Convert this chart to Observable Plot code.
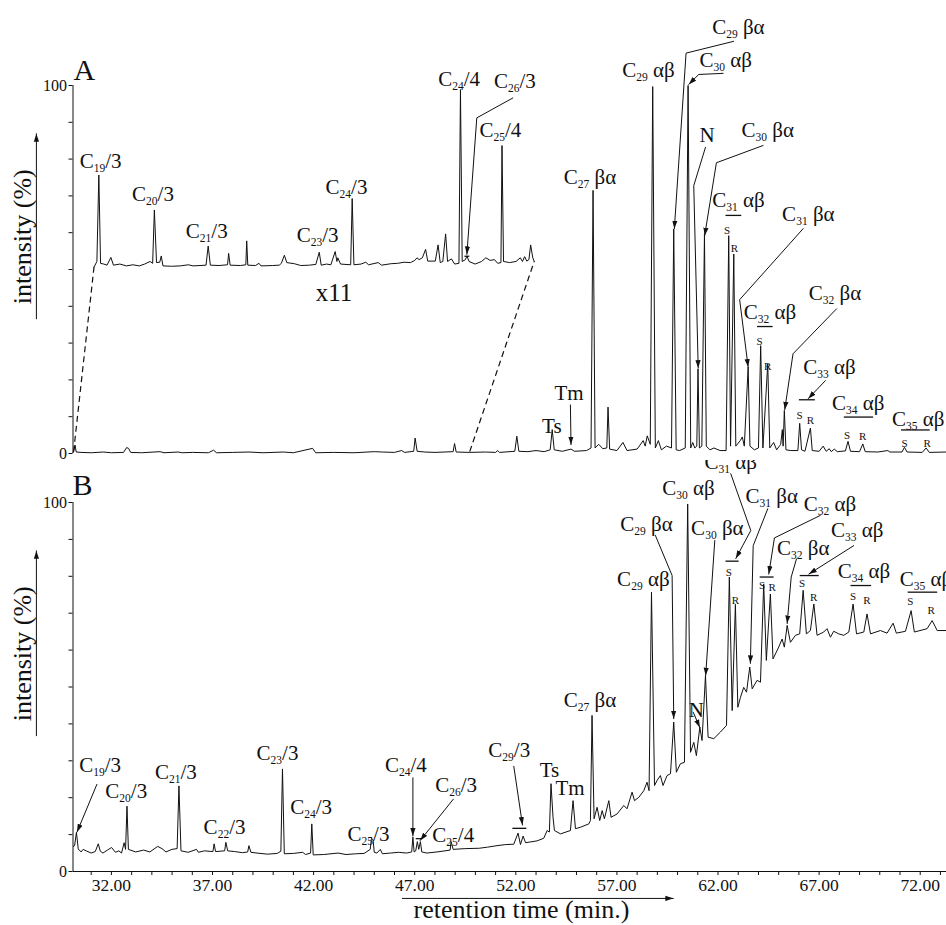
<!DOCTYPE html>
<html><head><meta charset="utf-8">
<script src="https://cdn.jsdelivr.net/npm/d3@7"></script>
<script src="https://cdn.jsdelivr.net/npm/@observablehq/plot@0.6"></script>
<style>
html,body{margin:0;padding:0;background:#fff;overflow:hidden}
#wrap{position:relative;width:946px;height:925px;background:#fff}
#wrap svg{position:absolute;left:0;overflow:hidden}
#wrap svg.panelA{overflow:visible}
</style></head><body><div id="wrap"></div>
<script>
// ---------- scales / ticks ----------
const xDomain = [30.1, 73.3];
const yTicks = [0,10,20,30,40,50,60,70,80,90,100];
const yTickLabels = [0,100];
const xMinorTicks = [31,32,33,34,35,36,37,38,39,40,41,42,43,44,45,46,47,48,49,50,51,52,53,54,55,56,57,58,59,60,61,62,63,64,65,66,67,68,69,70,71,72,73];
const xLabelTicks = [32,37,42,47,52,57,62,67,72];
const xTickLabels = ["32.00","37.00","42.00","47.00","52.00","57.00","62.00","67.00","72.00"];

// ---------- panel A: main trace (retention time, intensity %) ----------
const traceA = [[30.10,0.3],[30.15,1.0],[30.20,2.3],[30.26,0.4],[30.5,0.3],[31.0,0.2],[31.6,0.4],[32.0,0.2],[32.6,0.3],[32.75,1.6],[32.85,1.4],[32.95,0.3],[33.5,0.2],[34.4,0.5],[34.6,0.2],[35.3,0.4],[35.5,0.2],[36.0,0.3],[36.8,0.2],[37.05,0.9],[37.2,0.2],[38.0,0.3],[38.8,0.4],[39.5,0.2],[40.5,0.4],[41.0,0.2],[41.95,1.4],[42.1,0.2],[43.0,0.3],[44.0,0.2],[45.0,0.5],[45.4,0.4],[46.0,0.3],[46.35,0.8],[46.5,0.3],[46.95,0.6],[47.02,4.2],[47.12,0.6],[47.5,0.4],[48.0,0.3],[48.9,0.5],[48.97,2.7],[49.05,0.4],[49.7,0.3],[50.5,0.4],[51.0,0.3],[51.1,0.8],[51.2,0.3],[51.95,0.6],[52.05,4.7],[52.15,0.6],[52.6,0.5],[53.0,0.8],[53.4,0.5],[53.7,1.0],[53.8,6.5],[53.9,1.0],[54.3,0.6],[54.73,1.2],[54.9,0.6],[55.5,0.8],[55.72,1.5],[55.82,71.5],[55.92,1.5],[56.1,2.5],[56.3,1.3],[56.5,1.5],[56.56,12.6],[56.64,1.2],[57.0,0.8],[57.3,3.0],[57.5,0.8],[58.0,1.2],[58.3,3.5],[58.4,2.0],[58.5,4.8],[58.65,2.5],[58.77,99.7],[58.9,1.5],[59.05,3.5],[59.2,1.0],[59.45,2.0],[59.7,1.5],[59.81,61],[59.93,1.0],[60.1,0.8],[60.38,1.5],[60.52,100],[60.65,1.5],[60.75,3.0],[60.85,1.5],[60.95,2.0],[61.01,23],[61.08,1.5],[61.2,2.0],[61.33,59.7],[61.42,2.0],[61.6,1.0],[61.8,1.5],[62.1,0.8],[62.4,0.8],[62.53,59.2],[62.62,2.0],[62.78,54.2],[62.88,2.0],[63.1,3.5],[63.2,4.5],[63.3,2.0],[63.49,23.5],[63.58,2.0],[63.8,1.0],[64.0,1.5],[64.11,29.3],[64.22,1.5],[64.46,24.4],[64.56,1.5],[64.75,3.0],[64.9,1.0],[65.1,2.5],[65.18,6.5],[65.22,2.0],[65.28,11.7],[65.36,1.0],[65.6,0.8],[65.95,0.8],[66.04,8.2],[66.13,1.0],[66.3,0.6],[66.57,6.9],[66.66,0.8],[67.0,0.6],[67.2,2.0],[67.35,0.6],[67.5,1.3],[67.6,0.5],[67.75,1.2],[67.9,0.5],[68.3,0.7],[68.43,3.3],[68.55,0.6],[69.0,0.5],[69.16,2.6],[69.28,0.5],[69.9,0.4],[70.4,0.8],[70.5,0.4],[71.1,0.4],[71.22,1.7],[71.35,0.4],[72.1,0.3],[72.29,1.5],[72.45,0.3],[73.3,0.4]];

// ---------- panel A: x11 inset (retention time, magnified intensity) ----------
const insetDomain = [30.0, 50.45];
const insetA = [[30.00,0.0],[30.13,1.5],[30.22,25],[30.30,1.0],[30.45,0.8],[30.6,0.5],[30.78,2.6],[30.9,0.5],[31.2,0.8],[31.5,0.3],[31.8,0.6],[32.1,0.3],[32.35,0.8],[32.6,1.5],[32.72,1.0],[32.8,15.5],[32.9,1.2],[33.05,1.3],[33.12,3.0],[33.2,0.3],[33.6,0.2],[34.0,0.3],[34.38,0.6],[34.6,0.3],[35.2,0.5],[35.3,5.7],[35.4,0.5],[35.8,0.4],[36.2,0.6],[36.25,3.7],[36.32,0.5],[36.8,0.4],[37.05,0.6],[37.09,7.1],[37.14,0.5],[37.5,0.4],[37.66,1.0],[37.75,0.3],[38.3,0.4],[38.6,0.5],[38.7,1.0],[38.84,3.2],[38.95,1.2],[39.3,0.9],[39.6,0.4],[40.0,0.5],[40.3,0.7],[40.46,4.0],[40.55,0.5],[40.8,0.8],[41.0,0.6],[41.2,4.2],[41.28,1.5],[41.32,2.5],[41.45,0.8],[41.92,0.6],[41.99,18.6],[42.07,0.6],[42.4,0.8],[42.62,1.3],[42.75,0.6],[43.2,1.2],[43.35,0.5],[43.8,0.9],[44.1,1.0],[44.4,1.3],[44.7,1.2],[44.9,1.8],[45.0,2.5],[45.1,2.0],[45.25,2.5],[45.40,4.8],[45.5,1.6],[45.85,1.6],[45.98,6.0],[46.08,1.2],[46.2,1.5],[46.33,9.0],[46.42,1.5],[46.6,2.2],[46.75,0.8],[46.95,1.0],[47.02,48.2],[47.1,1.5],[47.25,2.0],[47.32,3.0],[47.42,1.5],[47.7,0.8],[48.0,1.5],[48.2,2.5],[48.4,1.8],[48.6,2.0],[48.75,1.0],[48.9,1.2],[48.95,33],[49.02,1.5],[49.3,1.2],[49.6,1.5],[49.8,2.5],[49.9,1.5],[50.0,2.8],[50.1,1.6],[50.2,2.0],[50.28,6.0],[50.38,2.5],[50.45,1.5]];

// ---------- panel B trace ----------
const traceB = [[30.12,6.8],[30.18,7.0],[30.27,10.6],[30.36,6.1],[30.5,5.3],[30.6,6.0],[30.79,5.5],[31.0,5.0],[31.2,5.4],[31.35,7.5],[31.45,5.5],[31.58,5.0],[31.8,5.8],[32.01,6.5],[32.2,5.2],[32.37,5.6],[32.5,5.0],[32.63,7.8],[32.7,6.0],[32.77,17.7],[32.84,6.0],[33.2,5.3],[33.59,5.8],[33.9,5.3],[34.29,6.8],[34.5,6.2],[34.7,5.3],[34.99,6.0],[35.25,6.2],[35.34,23.2],[35.44,5.6],[35.8,5.2],[36.21,6.0],[36.3,5.2],[36.6,5.6],[37.02,5.4],[37.08,7.5],[37.15,5.4],[37.6,5.6],[37.66,7.9],[37.75,5.6],[38.1,5.4],[38.48,5.1],[38.74,5.3],[38.8,7.0],[38.9,5.2],[39.2,5.0],[39.71,4.7],[40.2,4.9],[40.38,5.5],[40.46,27.8],[40.55,4.8],[41.0,4.9],[41.46,5.2],[41.6,4.6],[41.85,5.0],[41.91,12.9],[41.98,4.5],[42.5,4.6],[43.21,5.0],[43.6,4.6],[44.08,4.8],[44.5,4.9],[44.8,6.0],[44.86,9.0],[44.94,8.6],[45.0,5.2],[45.13,5.0],[45.30,6.0],[45.4,4.8],[45.8,5.0],[46.2,5.2],[46.6,5.0],[46.85,5.3],[46.91,9.3],[46.97,5.3],[47.05,5.6],[47.13,8.1],[47.2,6.0],[47.28,8.1],[47.35,5.3],[47.6,5.0],[48.1,5.3],[48.5,5.6],[48.75,5.8],[48.8,8.1],[48.9,6.0],[49.5,6.2],[50.19,6.3],[50.6,6.6],[51.07,7.0],[51.5,7.3],[51.9,7.4],[52.11,10.4],[52.23,7.3],[52.36,9.6],[52.48,7.8],[53.05,8.3],[53.38,9.0],[53.55,11.1],[53.66,10.7],[53.74,23.8],[53.84,14.7],[53.91,11.1],[54.21,10.2],[54.70,11.1],[54.83,19.2],[54.95,11.6],[55.20,12.0],[55.61,12.9],[55.69,13.8],[55.77,42.3],[55.87,14.3],[56.02,17.4],[56.15,13.8],[56.27,16.5],[56.38,14.3],[56.60,19.2],[56.71,14.7],[57.01,15.6],[57.34,17.9],[57.50,17.0],[57.75,21.5],[57.87,19.2],[58.08,20.1],[58.33,21.9],[58.49,24.2],[58.59,21.9],[58.71,75.7],[58.86,23.3],[58.99,24.7],[59.15,26.0],[59.28,23.3],[59.48,26.0],[59.65,26.5],[59.81,40.5],[59.94,26.9],[60.14,29.2],[60.34,29.6],[60.50,99.6],[60.64,32.3],[60.80,35.0],[60.93,31.4],[61.10,39.1],[61.21,35.5],[61.38,53.1],[61.51,36.4],[61.79,36.0],[62.12,37.8],[62.42,39.6],[62.56,79.8],[62.70,43.6],[62.86,72.4],[62.98,44.5],[63.11,47.2],[63.27,49.9],[63.41,48.6],[63.57,55.4],[63.69,49.5],[63.93,51.8],[64.10,51.3],[64.26,77.9],[64.39,57.2],[64.59,75.2],[64.72,57.6],[65.00,60.8],[65.17,63.0],[65.28,60.8],[65.42,66.7],[65.58,62.1],[65.83,64.0],[66.04,64.4],[66.21,76.2],[66.37,64.4],[66.57,65.3],[66.74,72.5],[66.90,64.0],[67.23,64.9],[67.39,65.8],[67.56,63.5],[67.72,65.1],[67.97,64.4],[68.22,64.0],[68.47,64.9],[68.68,72.5],[68.85,64.4],[69.21,64.9],[69.37,69.8],[69.54,64.4],[70.03,65.3],[70.36,64.6],[70.66,67.3],[70.82,64.6],[71.27,65.1],[71.55,70.7],[71.71,64.9],[72.34,65.8],[72.59,68.0],[72.84,65.3],[73.30,65.3]];

// ---------- annotations, panel A (t = retention time, v = intensity) ----------
const labelsA = [
 {text:"C_24/4",t:48.16,v:100.0},{text:"C_26/3",t:50.92,v:99.4},{text:"C_25/4",t:50.20,v:85.9},
 {text:"C_19/3",t:30.43,v:77.7},{text:"C_20/3",t:33.02,v:68.6},{text:"C_21/3",t:35.68,v:58.6},
 {text:"C_23/3",t:41.16,v:57.6},{text:"C_24/3",t:42.59,v:70.5},
 {text:"C_29 βα",t:61.71,v:114.0},{text:"C_30 αβ",t:61.08,v:105.0},{text:"C_29 αβ",t:57.26,v:102.4},
 {text:"N",t:61.08,v:84.6},{text:"C_30 βα",t:63.16,v:86.0},{text:"C_27 βα",t:54.37,v:73.3},
 {text:"C_31 αβ",t:61.71,v:66.9},{text:"C_31 βα",t:65.17,v:63.3},{text:"C_32 αβ",t:63.27,v:36.6},
 {text:"C_32 βα",t:66.49,v:41.6},{text:"C_33 αβ",t:66.21,v:21.7},{text:"C_34 αβ",t:67.64,v:11.7},
 {text:"C_35 αβ",t:70.60,v:7.6},{text:"Ts",t:53.30,v:5.5},{text:"Tm",t:53.91,v:14.6}
];
const srA = [
 {text:"S",t:62.45,v:59.7},{text:"R",t:62.81,v:54.7},{text:"S",t:64.06,v:29.5},{text:"R",t:64.46,v:22.6},
 {text:"S",t:66.03,v:9.4},{text:"R",t:66.57,v:8.1},{text:"S",t:68.38,v:4.0},{text:"R",t:69.16,v:3.7},
 {text:"S",t:71.22,v:1.7},{text:"R",t:72.34,v:1.9}
];
const barsA = [[62.37,63.15,64.7],[63.93,64.70,34.5],[66.0,66.79,14.6],[68.22,69.67,9.9],[71.05,72.47,6.4],[49.46,49.70,53.6]];
const leadersA = [
 [[62.77,112.0],[60.42,108.8],[59.84,61.1]],
 [[62.25,103.3],[61.05,103.0],[60.55,100.3]],
 [[61.38,83.2],[60.80,72.8],[61.02,23.2]],
 [[64.23,83.7],[61.92,79.0],[61.34,59.2]],
 [[66.21,61.1],[63.07,41.8],[63.49,23.5]],
 [[67.86,39.3],[65.71,27.1],[65.30,11.9]],
 [[67.31,19.8],[66.46,14.9]],
 [[54.70,13.2],[54.73,2.4]],
 [[51.85,96.6],[50.07,91.2],[49.58,54.1]],
 [[28.29,36.6],[28.29,86.9]]
];
const dashA = [[[30.13,0.5],[31.14,50.7]],[[49.72,0.5],[52.91,52.2]]];
const insetTag = [{text:"x11",t:42.10,v:41.4}];
const titleA = [{text:"A",t:30.12,v:101.6}];
const yTitle = [{text:"intensity (%)",t:28.04,v:58.9}];

// ---------- annotations, panel B ----------
const labelsB = [
 {text:"C_19/3",t:30.41,v:26.9},{text:"C_20/3",t:31.70,v:19.8},{text:"C_21/3",t:34.15,v:25.2},
 {text:"C_22/3",t:36.56,v:10.2},{text:"C_23/3",t:39.18,v:30.2},{text:"C_24/3",t:40.84,v:15.5},
 {text:"C_25/3",t:43.68,v:8.4},{text:"C_24/4",t:45.53,v:27.1},{text:"C_26/3",t:48.01,v:21.6},
 {text:"C_25/4",t:47.87,v:8.0},{text:"C_29/3",t:50.64,v:31.0},{text:"Ts",t:53.18,v:25.6},
 {text:"Tm",t:53.96,v:20.6},{text:"C_27 βα",t:54.37,v:44.5},{text:"C_29 αβ",t:57.01,v:77.5},
 {text:"C_29 βα",t:57.17,v:92.4},{text:"C_30 αβ",t:59.24,v:101.9},{text:"C_30 βα",t:60.67,v:91.3},
 {text:"N",t:60.55,v:41.8},{text:"C_31 αβ",t:61.33,v:109.1},{text:"C_31 βα",t:63.36,v:99.8},
 {text:"C_32 αβ",t:66.24,v:97.8},{text:"C_32 βα",t:64.92,v:85.9},{text:"C_33 αβ",t:67.59,v:90.6},
 {text:"C_34 αβ",t:67.92,v:79.6},{text:"C_35 αβ",t:70.99,v:77.5}
];
const srB = [
 {text:"S",t:62.53,v:80.2},{text:"R",t:62.86,v:72.4},{text:"S",t:64.18,v:76.6},{text:"R",t:64.68,v:76.0},
 {text:"S",t:66.16,v:77.2},{text:"R",t:66.73,v:73.4},{text:"S",t:68.68,v:73.6},{text:"R",t:69.37,v:72.4},
 {text:"S",t:71.51,v:72.1},{text:"R",t:72.54,v:69.8}
];
const barsB = [[51.83,52.52,11.7],[47.05,47.31,8.9],[62.37,63.02,84.1],[64.06,64.75,79.8],[66.04,66.98,80.2],[68.55,69.57,77.5],[71.38,72.84,75.7]];
const leadersB = [
 [[31.28,23.6],[30.30,10.7]],
 [[46.91,25.4],[46.91,9.6]],
 [[48.91,19.6],[47.27,8.4]],
 [[51.90,28.5],[52.33,12.6]],
 [[58.90,91.1],[59.73,80.2],[59.81,41.4]],
 [[61.84,89.7],[61.39,53.1]],
 [[60.78,43.1],[61.10,39.0]],
 [[62.63,107.8],[63.62,92.4],[62.88,84.8]],
 [[64.46,98.3],[63.74,88.3],[63.60,56.4]],
 [[67.06,96.5],[64.79,90.4],[64.51,80.6]],
 [[65.88,84.7],[65.62,79.8],[65.42,67.2]],
 [[68.71,88.3],[66.49,80.6]],
 [[28.29,36.8],[28.29,86.9]],
 [[46.39,-7.3],[59.79,-7.3]]
];
const titleB = [{text:"B",t:30.07,v:101.9}];
const yTitleB = [{text:"intensity (%)",t:28.04,v:59.0}];
const xTitle = [{text:"retention time (min.)",t:46.94,v:-12.6}];

// ---------- helpers ----------
const FONT = "Liberation Serif";
const INK = "#111";
const W = 946;
const flat = (ls) => ls.flatMap((pts, i) => pts.map(p => ({id: i, t: p[0], v: p[1]})));
const lab = (data, o = {}) => Plot.text(data, {x: "t", y: "v", text: "text", textAnchor: "start", lineAnchor: "bottom", fontSize: 21, fontFamily: FONT, fill: INK, ...o});
const bars = (data) => Plot.link(data, {x1: d => d[0], x2: d => d[1], y1: d => d[2], y2: d => d[2], stroke: INK, strokeWidth: 1.3});
const leaders = (data) => Plot.line(flat(data), {x: "t", y: "v", z: "id", stroke: INK, strokeWidth: 1, markerEnd: "arrow"});
const yLabels = () => Plot.text(yTickLabels, {x: () => xDomain[0], y: d => d, text: d => String(d), dx: -6, textAnchor: "end", fontSize: 16, fontFamily: FONT, fill: INK});
const srText = (data) => Plot.text(data, {x: "t", y: "v", text: "text", lineAnchor: "bottom", fontSize: 11, fontFamily: FONT, fill: INK});
const yTitleMark = (data) => Plot.text(data, {x: "t", y: "v", text: "text", rotate: -90, textAnchor: "middle", lineAnchor: "bottom", fontSize: 26, fontFamily: FONT, fill: INK});

function finish(svg, top, cls) {
  svg.style.top = top + "px";
  if (cls) svg.classList.add(cls);
  svg.querySelectorAll("marker").forEach(m => {
    m.setAttribute("viewBox", "-8 -3 8 6");
    m.setAttribute("markerWidth", 8);
    m.setAttribute("markerHeight", 6);
    m.setAttribute("fill", INK);
    m.setAttribute("stroke", "none");
    const p = m.querySelector("path");
    if (p) p.setAttribute("d", "M-8,-2.6L0,0L-8,2.6Z");
  });
  const ns = "http://www.w3.org/2000/svg";
  svg.querySelectorAll("text").forEach(t => {
    const m = t.textContent.match(/^C_(\d+)(.*)$/);
    if (!m) return;
    t.textContent = "";
    const a = document.createElementNS(ns, "tspan"); a.textContent = "C";
    const b = document.createElementNS(ns, "tspan"); b.textContent = m[1];
    b.setAttribute("font-size", "11.5"); b.setAttribute("dy", "4");
    const c = document.createElementNS(ns, "tspan"); c.textContent = m[2]; c.setAttribute("dy", "-4");
    t.append(a, b, c);
  });
  document.getElementById("wrap").appendChild(svg);
}

// ---------- panel B (drawn first, transparent, so panel A's bottom tick label can overlap it) ----------
const plotB = Plot.plot({
  width: W, height: 465, marginLeft: 72.5, marginRight: 0, marginTop: 42, marginBottom: 54,
  style: {fontFamily: FONT, background: "transparent", color: INK},
  x: {domain: xDomain, ticks: xMinorTicks, tickSize: 4, tickFormat: () => "", label: null},
  y: {domain: [0, 100], ticks: yTicks, tickSize: 4, tickFormat: () => "", label: null},
  marks: [
    Plot.ruleX([xDomain[0]], {stroke: INK}),
    Plot.ruleY([0], {stroke: INK}),
    yLabels(),
    Plot.text(xLabelTicks, {x: d => d, y: () => 0, text: (d, i) => xTickLabels[i], dy: 7, lineAnchor: "top", fontSize: 17.5, fontFamily: FONT, fill: INK}),
    Plot.line(traceB, {x: d => d[0], y: d => d[1], stroke: INK, strokeWidth: 1}),
    bars(barsB),
    leaders(leadersB),
    lab(labelsB),
    srText(srB),
    lab(titleB, {fontSize: 30}),
    lab(xTitle, {fontSize: 26}),
    yTitleMark(yTitleB)
  ]
});
finish(plotB, 460);

// ---------- panel A ----------
const plotA = Plot.plot({
  width: W, height: 460, marginLeft: 72.5, marginRight: 0, marginTop: 85, marginBottom: 7,
  style: {fontFamily: FONT, background: "transparent", color: INK},
  x: {domain: xDomain, axis: null},
  y: {domain: [0, 100], ticks: yTicks, tickSize: 4, tickFormat: () => "", label: null},
  marks: [
    Plot.ruleX([xDomain[0]], {stroke: INK}),
    yLabels(),
    Plot.line(traceA, {x: d => d[0], y: d => d[1], stroke: INK, strokeWidth: 1}),
    Plot.link(dashA, {x1: d => d[0][0], y1: d => d[0][1], x2: d => d[1][0], y2: d => d[1][1], stroke: INK, strokeWidth: 1.2, strokeDasharray: "6,4"}),
    bars(barsA),
    leaders(leadersA),
    lab(labelsA),
    srText(srA),
    lab(insetTag, {fontSize: 25}),
    lab(titleA, {fontSize: 30}),
    yTitleMark(yTitle)
  ]
});
finish(plotA, 0, "panelA");

// ---------- x11 inset over panel A ----------
const insetPlot = Plot.plot({
  width: W, height: 460, marginLeft: 93.6, marginRight: W - 533.8, marginTop: 82.5, marginBottom: 193.5,
  style: {background: "transparent"},
  x: {domain: insetDomain, axis: null},
  y: {domain: [0, 50], axis: null},
  marks: [Plot.line(insetA, {x: d => d[0], y: d => d[1], stroke: INK, strokeWidth: 1})]
});
finish(insetPlot, 0);
</script></body></html>
